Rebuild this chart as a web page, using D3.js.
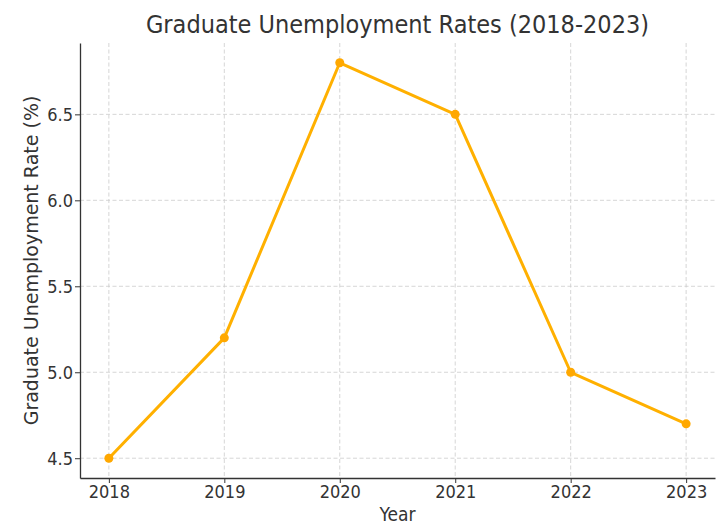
<!DOCTYPE html>
<html><head><meta charset="utf-8">
<script src="https://cdn.jsdelivr.net/npm/d3@7"></script>
<style>body{margin:0;background:#fff}</style>
</head><body><svg id="c" width="720" height="526"></svg>
<script>
const years = [2018, 2019, 2020, 2021, 2022, 2023];
const rates = [4.5, 5.2, 6.8, 6.5, 5.0, 4.7];
const yTicks = [4.5, 5.0, 5.5, 6.0, 6.5];
const title = "Graduate Unemployment Rates (2018-2023)";
const xLabel = "Year";
const yLabel = "Graduate Unemployment Rate (%)";

const svg = d3.select("#c");
const L = 80, R = 715, T = 43, B = 478;
const x = d3.scaleLinear().domain([2017.75, 2023.25]).range([L, R]);
const y = d3.scaleLinear().domain([4.385, 6.915]).range([B, T]);
const cond = "'DejaVu Sans Condensed', 'DejaVu Sans', sans-serif";

// grid
svg.append("g").selectAll("line").data(years).join("line")
  .attr("x1", d => x(d)).attr("x2", d => x(d)).attr("y1", T).attr("y2", B)
  .attr("stroke", "#cccccc").attr("stroke-width", 0.8).attr("stroke-dasharray", "4,2.5");
svg.append("g").selectAll("line").data(yTicks).join("line")
  .attr("x1", L).attr("x2", R).attr("y1", d => y(d)).attr("y2", d => y(d))
  .attr("stroke", "#cccccc").attr("stroke-width", 0.8).attr("stroke-dasharray", "4,2.5");

// axes
const xa = svg.append("g").attr("transform", `translate(0,${B})`)
  .call(d3.axisBottom(x).tickValues(years).tickFormat(d3.format("d")).tickSize(5).tickSizeOuter(0));
const ya = svg.append("g").attr("transform", `translate(${L},0)`)
  .call(d3.axisLeft(y).tickValues(yTicks).tickFormat(d3.format(".1f")).tickSize(5).tickSizeOuter(0));
[xa, ya].forEach(a => {
  a.select(".domain").attr("stroke", "#333").attr("stroke-width", 1.3);
  a.selectAll(".tick line").attr("stroke", "#333");
  a.selectAll(".tick text").attr("fill", "#333").style("font-family", cond).style("font-size", "18px");
});
xa.selectAll(".tick text").attr("y", 20).attr("dy", 0);
ya.selectAll(".tick text").attr("x", -7).attr("dy", "0.36em");

// line
svg.append("path").datum(years.map((d, i) => [d, rates[i]]))
  .attr("d", d3.line().x(d => x(d[0])).y(d => y(d[1])))
  .attr("fill", "none").attr("stroke", "#FFB000").attr("stroke-width", 3).attr("stroke-linejoin", "round");
svg.append("g").selectAll("circle").data(years).join("circle")
  .attr("cx", d => x(d)).attr("cy", (d, i) => y(rates[i])).attr("r", 4.5).attr("fill", "#FFA800");

// texts
svg.append("text").attr("x", (L + R) / 2).attr("y", 33).attr("text-anchor", "middle")
  .style("font-family", cond).style("font-size", "25px").attr("fill", "#333").text(title);
svg.append("text").attr("x", (L + R) / 2).attr("y", 521).attr("text-anchor", "middle")
  .style("font-family", cond).style("font-size", "19px").attr("fill", "#333").text(xLabel);
svg.append("text").attr("transform", `translate(38,${(T + B) / 2}) rotate(-90)`).attr("text-anchor", "middle")
  .style("font-family", "'DejaVu Sans', sans-serif").style("font-size", "19px").attr("fill", "#333").text(yLabel);
</script></body></html>
